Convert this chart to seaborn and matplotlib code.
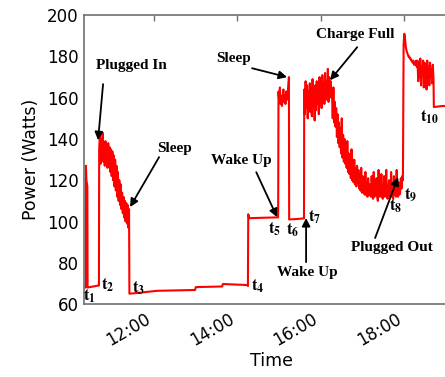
import pandas as pd
import matplotlib
matplotlib.use("Agg")
import matplotlib.pyplot as plt
import matplotlib.dates as mdates
import seaborn as sns

DAY = "2014-06-10"

# Stepwise stretches given as (clock time, watts) breakpoints
boot_times = ["10:19:00", "10:21:40", "10:22:00", "10:22:40", "10:24:00", "10:24:20", "10:40:40"]
boot_watts = [68.0, 68.0, 127.0, 120.0, 117.0, 68.0, 69.0]

# Charging after plug-in, one reading per minute
plugin_start = "10:41"
plugin_watts = [135, 142, 128, 140, 131, 143, 129, 138, 127, 139,
                130, 137, 126, 138, 128, 136, 124, 135, 122, 134,
                120, 132, 117, 130, 115, 127, 112, 124, 110, 120,
                108, 118, 106, 114, 104, 112, 102, 110, 100, 109,
                99, 108, 97, 106]

idle_times = ["11:24:30", "11:40:00", "12:04:00", "12:30:00", "12:59:00", "13:00:00",
              "13:38:00", "13:39:00", "14:14:00", "14:15:00", "14:15:30", "14:17:00",
              "14:35:00", "14:58:30"]
idle_watts = [65.0, 65.5, 66.4, 66.6, 66.8, 68.2, 68.5, 69.7, 69.2, 68.7,
              103.5, 101.6, 101.8, 102.0]

awake_start = "14:59"
awake_watts = [163, 158, 165, 157, 161, 156, 160, 164, 158, 161,
               157, 163, 159, 162, 165, 170]

nap_times = ["15:14:20", "15:25:00", "15:35:40"]
nap_watts = [101.0, 101.2, 101.5]

busy_start = "15:36"
busy_watts = [164, 152, 168, 155, 166, 150, 163, 158, 167, 153,
              165, 151, 169, 156, 162, 149, 166, 154, 168, 157,
              164, 152, 170, 158, 166, 155, 171, 160, 167, 157,
              172, 159, 168, 162, 174, 158, 170, 163, 168, 160]

full_start = "16:16"
full_watts = [162, 150, 165, 148, 158, 146, 155, 141, 152, 138,
              148, 136, 145, 133, 150, 131, 142, 129, 140, 128,
              137, 126, 139, 124, 133, 123, 131, 121, 135, 120,
              128, 119, 130, 118, 126, 117, 127, 119, 125, 116,
              123, 115, 126, 114, 122, 114, 120, 113, 124, 113,
              119, 112, 121, 113, 118]

steady_start = "17:11"
steady_watts = [113, 112, 122, 113, 111, 124, 112, 114, 113, 121,
                112, 110, 125, 113, 112, 114, 123, 112, 111, 113,
                122, 112, 113, 125, 112, 111, 114, 120, 113, 112,
                124, 113, 112, 111, 122, 114, 113, 112, 125, 113,
                112, 119, 113, 114, 121, 116, 122, 120]

unplug_start = "17:59"
unplug_watts = [186, 191, 189, 185, 183, 182, 181, 180, 180, 179,
                179, 178, 178, 177, 178, 176, 177, 176, 178, 175,
                178, 168, 176, 170, 179, 166, 175, 171, 178, 165,
                177, 168, 176, 164, 178, 169, 175, 166, 177, 170,
                174, 167, 176, 169]

tail_times = ["18:42:30", "18:55:00", "19:30:00"]
tail_watts = [155.5, 156.0, 155.6]


def breakpoints(times, watts):
    return pd.DataFrame({"time": pd.to_datetime([f"{DAY} {t}" for t in times]),
                         "watts": watts})


def per_minute(start, watts):
    stamps = pd.date_range(f"{DAY} {start}", periods=len(watts), freq="min")
    return pd.DataFrame({"time": stamps, "watts": watts})


trace = pd.concat([
    breakpoints(boot_times, boot_watts),
    per_minute(plugin_start, plugin_watts),
    breakpoints(idle_times, idle_watts),
    per_minute(awake_start, awake_watts),
    breakpoints(nap_times, nap_watts),
    per_minute(busy_start, busy_watts),
    per_minute(full_start, full_watts),
    per_minute(steady_start, steady_watts),
    per_minute(unplug_start, unplug_watts),
    breakpoints(tail_times, tail_watts),
], ignore_index=True)

sns.set_style("white")
plt.rcParams["font.family"] = ["DejaVu Sans"]
plt.rcParams["mathtext.fontset"] = "stix"
plt.rcParams["text.color"] = "black"
plt.rcParams["axes.labelcolor"] = "black"
plt.rcParams["xtick.labelcolor"] = "black"
plt.rcParams["ytick.labelcolor"] = "black"

fig = plt.figure(figsize=(4.45, 3.77), dpi=100)
ax = fig.add_axes([0.1888, 0.1936, 0.8416, 0.766])

sns.lineplot(data=trace, x="time", y="watts", color="#ff0000", linewidth=1.5,
             estimator=None, sort=False, ax=ax)


def clock(h):
    return mdates.date2num(pd.Timestamp(DAY) + pd.Timedelta(hours=h))


ax.set_xlim(clock(10.32), clock(19.30))
ax.set_ylim(60, 200)
ax.set_yticks(range(60, 201, 20))
ax.xaxis.set_major_locator(mdates.HourLocator(byhour=[12, 14, 16, 18]))
ax.xaxis.set_major_formatter(mdates.DateFormatter("%H:%M"))
for lab in ax.get_xticklabels():
    lab.set_rotation(30)
    lab.set_ha("right")

ax.tick_params(direction="in", top=True, right=True, length=4, width=1,
               color="#707070", labelcolor="black", labelsize=12, pad=4)
for side in ax.spines.values():
    side.set_color("#707070")
    side.set_linewidth(1.2)

ax.set_xlabel("Time", fontsize=12.5, labelpad=2, color="black")
ax.set_ylabel("Power (Watts)", fontsize=12.5, labelpad=5, color="black")

note_font = dict(family="Liberation Serif", weight="bold", fontsize=11,
                 ha="center", va="center", color="black")
arrow = dict(arrowstyle="-|>", color="black", lw=1.3, mutation_scale=12,
             shrinkA=0, shrinkB=0)

notes = [
    ("Plugged In", (11.45, 175.6), (10.777, 166.6), (10.657, 139.4)),
    ("Sleep", (12.50, 135.6), (12.12, 131.2), (11.424, 107.0)),
    ("Sleep", (13.91, 178.8), (14.35, 174.3), (15.19, 170.0)),
    ("Wake Up", (14.10, 129.8), (14.45, 123.9), (14.95, 102.1)),
    ("Charge Full", (16.82, 190.5), (16.87, 184.5), (16.22, 168.5)),
    ("Wake Up", (15.68, 75.5), (15.645, 80.3), (15.645, 101.7)),
    ("Plugged Out", (17.695, 87.4), (17.30, 92.0), (17.85, 121.5)),
]
for text, (tx, ty), (ax0, ay0), (hx, hy) in notes:
    ax.text(clock(tx), ty, text, **note_font)
    ax.annotate("", xy=(clock(hx), hy), xytext=(clock(ax0), ay0),
                arrowprops=arrow)

marks = [
    ("1", 10.441, 63.9), ("2", 10.90, 69.2), ("3", 11.64, 67.8),
    ("4", 14.48, 68.7), ("5", 14.89, 96.3), ("6", 15.33, 96.0),
    ("7", 15.85, 102.3), ("8", 17.80, 107.5), ("9", 18.16, 112.8),
    ("10", 18.61, 150.7),
]
for idx, hx, wy in marks:
    ax.text(clock(hx), wy, r"$\mathbf{t_{%s}}$" % idx, fontsize=12,
            ha="center", va="center", color="black")

fig.savefig("out.png", dpi=100)
